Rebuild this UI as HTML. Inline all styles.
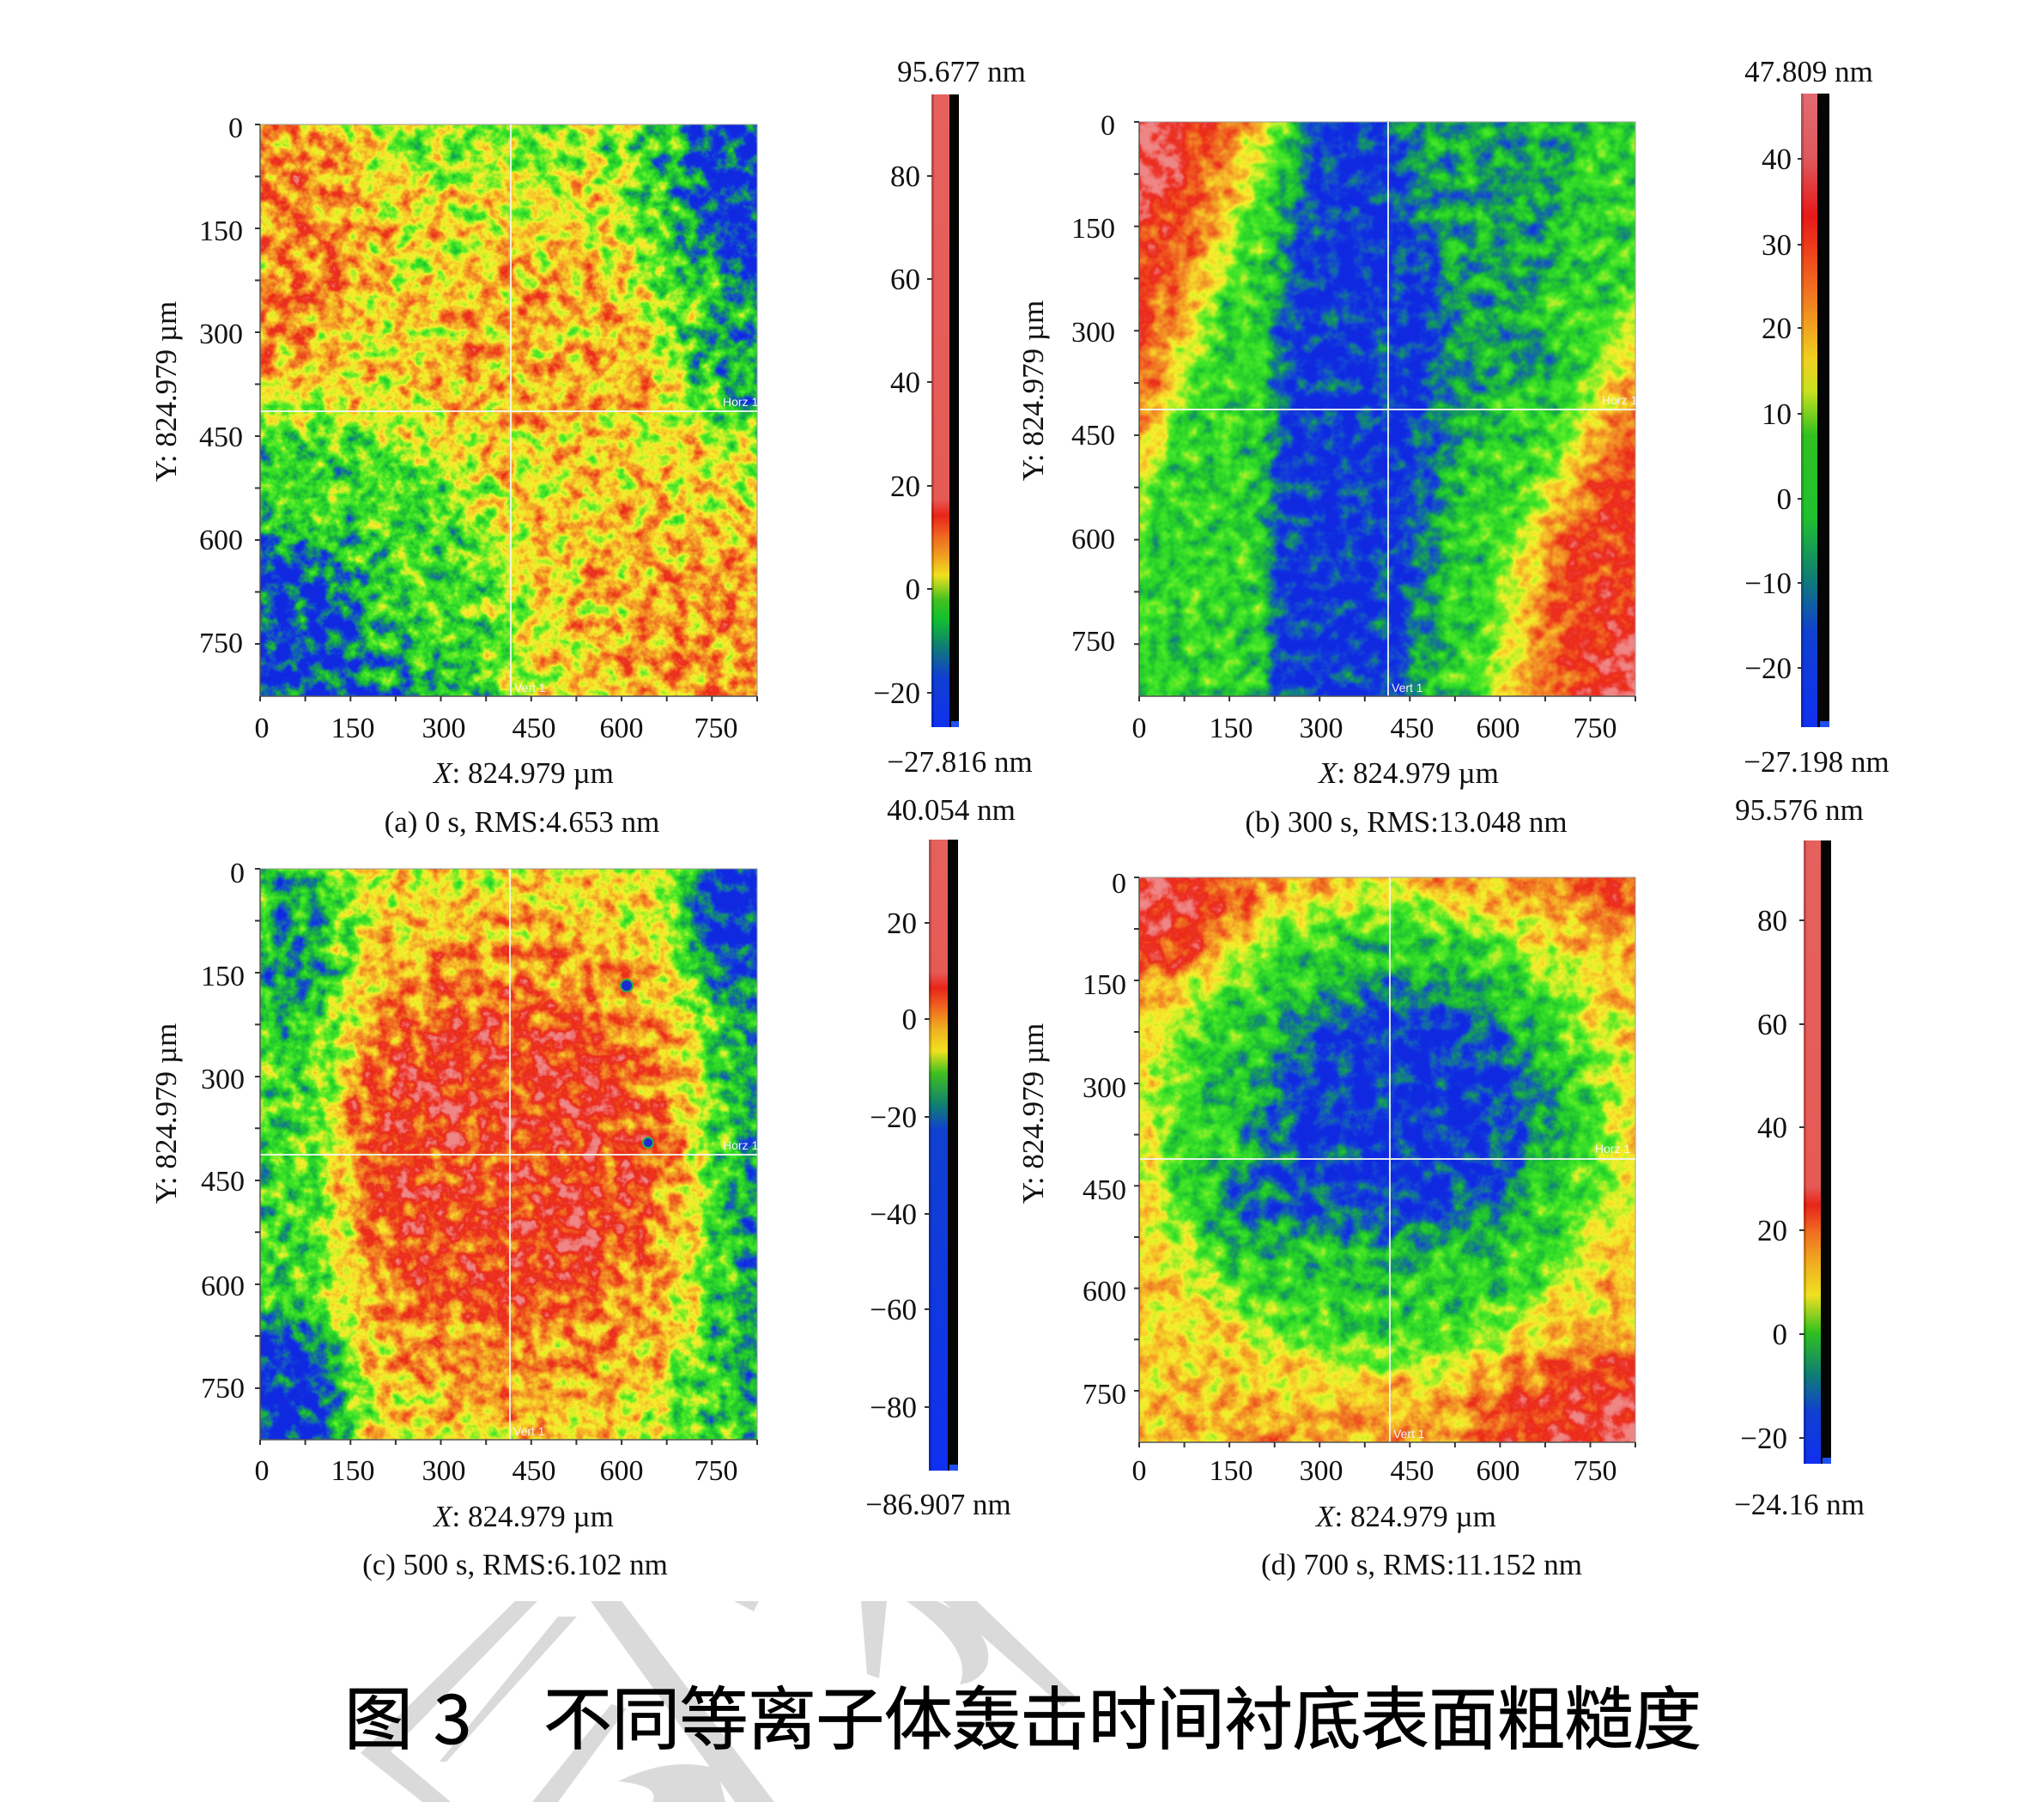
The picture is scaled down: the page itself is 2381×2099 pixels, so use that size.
<!DOCTYPE html>
<html><head><meta charset="utf-8"><style>html,body{margin:0;padding:0;background:#fff}svg{display:block}</style></head><body>
<svg xmlns="http://www.w3.org/2000/svg" width="2381" height="2099" viewBox="0 0 2381 2099">
<defs>
<filter id="fa" filterUnits="userSpaceOnUse" x="303" y="145" width="579" height="666" color-interpolation-filters="sRGB">
<feGaussianBlur in="SourceGraphic" stdDeviation="24" result="b"/>
<feComponentTransfer in="b" result="bo"><feFuncA type="linear" slope="0" intercept="1"/></feComponentTransfer>
<feTurbulence type="fractalNoise" baseFrequency="0.05" numOctaves="4" seed="7" result="t"/>
<feColorMatrix in="t" type="matrix" values="1 0 0 0 0 1 0 0 0 0 1 0 0 0 0 0 0 0 0 1" result="g"/>
<feComposite in="bo" in2="g" operator="arithmetic" k1="0" k2="1" k3="0.75" k4="-0.375" result="h"/>
<feComponentTransfer in="h">
<feFuncR type="table" tableValues="0.059 0.059 0.078 0.078 0.078 0.098 0.137 0.196 0.294 0.529 0.784 0.961 0.965 0.961 0.949 0.941 0.933 0.925 0.925 0.933 0.941"/>
<feFuncG type="table" tableValues="0.157 0.176 0.255 0.392 0.529 0.667 0.784 0.863 0.910 0.925 0.941 0.941 0.831 0.698 0.557 0.424 0.282 0.165 0.216 0.412 0.529"/>
<feFuncB type="table" tableValues="0.882 0.882 0.843 0.686 0.471 0.294 0.176 0.157 0.157 0.157 0.157 0.176 0.165 0.157 0.149 0.133 0.118 0.098 0.176 0.392 0.529"/>
<feFuncA type="linear" slope="0" intercept="1"/>
</feComponentTransfer>
</filter>
<filter id="fb" filterUnits="userSpaceOnUse" x="1327" y="142" width="578" height="669" color-interpolation-filters="sRGB">
<feGaussianBlur in="SourceGraphic" stdDeviation="14" result="b"/>
<feComponentTransfer in="b" result="bo"><feFuncA type="linear" slope="0" intercept="1"/></feComponentTransfer>
<feTurbulence type="fractalNoise" baseFrequency="0.05" numOctaves="3" seed="11" result="t"/>
<feColorMatrix in="t" type="matrix" values="1 0 0 0 0 1 0 0 0 0 1 0 0 0 0 0 0 0 0 1" result="g"/>
<feComposite in="bo" in2="g" operator="arithmetic" k1="0" k2="1" k3="0.45" k4="-0.225" result="h"/>
<feComponentTransfer in="h">
<feFuncR type="table" tableValues="0.059 0.059 0.078 0.078 0.078 0.098 0.137 0.196 0.294 0.529 0.784 0.961 0.965 0.961 0.949 0.941 0.933 0.925 0.925 0.933 0.941"/>
<feFuncG type="table" tableValues="0.157 0.176 0.255 0.392 0.529 0.667 0.784 0.863 0.910 0.925 0.941 0.941 0.831 0.698 0.557 0.424 0.282 0.165 0.216 0.412 0.529"/>
<feFuncB type="table" tableValues="0.882 0.882 0.843 0.686 0.471 0.294 0.176 0.157 0.157 0.157 0.157 0.176 0.165 0.157 0.149 0.133 0.118 0.098 0.176 0.392 0.529"/>
<feFuncA type="linear" slope="0" intercept="1"/>
</feComponentTransfer>
</filter>
<filter id="fc" filterUnits="userSpaceOnUse" x="303" y="1012" width="579" height="665" color-interpolation-filters="sRGB">
<feGaussianBlur in="SourceGraphic" stdDeviation="22" result="b"/>
<feComponentTransfer in="b" result="bo"><feFuncA type="linear" slope="0" intercept="1"/></feComponentTransfer>
<feTurbulence type="fractalNoise" baseFrequency="0.05" numOctaves="4" seed="23" result="t"/>
<feColorMatrix in="t" type="matrix" values="1 0 0 0 0 1 0 0 0 0 1 0 0 0 0 0 0 0 0 1" result="g"/>
<feComposite in="bo" in2="g" operator="arithmetic" k1="0" k2="1" k3="0.65" k4="-0.325" result="h"/>
<feComponentTransfer in="h">
<feFuncR type="table" tableValues="0.059 0.059 0.078 0.078 0.078 0.098 0.137 0.196 0.294 0.529 0.784 0.961 0.965 0.961 0.949 0.941 0.933 0.925 0.925 0.933 0.941"/>
<feFuncG type="table" tableValues="0.157 0.176 0.255 0.392 0.529 0.667 0.784 0.863 0.910 0.925 0.941 0.941 0.831 0.698 0.557 0.424 0.282 0.165 0.216 0.412 0.529"/>
<feFuncB type="table" tableValues="0.882 0.882 0.843 0.686 0.471 0.294 0.176 0.157 0.157 0.157 0.157 0.176 0.165 0.157 0.149 0.133 0.118 0.098 0.176 0.392 0.529"/>
<feFuncA type="linear" slope="0" intercept="1"/>
</feComponentTransfer>
</filter>
<filter id="fd" filterUnits="userSpaceOnUse" x="1327" y="1022" width="578" height="658" color-interpolation-filters="sRGB">
<feGaussianBlur in="SourceGraphic" stdDeviation="26" result="b"/>
<feComponentTransfer in="b" result="bo"><feFuncA type="linear" slope="0" intercept="1"/></feComponentTransfer>
<feTurbulence type="fractalNoise" baseFrequency="0.045" numOctaves="4" seed="5" result="t"/>
<feColorMatrix in="t" type="matrix" values="1 0 0 0 0 1 0 0 0 0 1 0 0 0 0 0 0 0 0 1" result="g"/>
<feComposite in="bo" in2="g" operator="arithmetic" k1="0" k2="1" k3="0.5" k4="-0.25" result="h"/>
<feComponentTransfer in="h">
<feFuncR type="table" tableValues="0.059 0.059 0.078 0.078 0.078 0.098 0.137 0.196 0.294 0.529 0.784 0.961 0.965 0.961 0.949 0.941 0.933 0.925 0.925 0.933 0.941"/>
<feFuncG type="table" tableValues="0.157 0.176 0.255 0.392 0.529 0.667 0.784 0.863 0.910 0.925 0.941 0.941 0.831 0.698 0.557 0.424 0.282 0.165 0.216 0.412 0.529"/>
<feFuncB type="table" tableValues="0.882 0.882 0.843 0.686 0.471 0.294 0.176 0.157 0.157 0.157 0.157 0.176 0.165 0.157 0.149 0.133 0.118 0.098 0.176 0.392 0.529"/>
<feFuncA type="linear" slope="0" intercept="1"/>
</feComponentTransfer>
</filter>
<linearGradient id="ca" x1="0" y1="0" x2="0" y2="1">
<stop offset="0" stop-color="#e5615e"/><stop offset="0.64" stop-color="#e65a55"/><stop offset="0.665" stop-color="#e8241a"/><stop offset="0.70" stop-color="#f06a20"/><stop offset="0.73" stop-color="#f0a020"/><stop offset="0.76" stop-color="#f0e020"/><stop offset="0.80" stop-color="#40c020"/><stop offset="0.83" stop-color="#10c030"/><stop offset="0.87" stop-color="#108070"/><stop offset="0.92" stop-color="#1040d0"/><stop offset="1" stop-color="#1030f0"/>
</linearGradient>
<linearGradient id="cb" x1="0" y1="0" x2="0" y2="1">
<stop offset="0" stop-color="#e26a70"/><stop offset="0.1" stop-color="#dd5a5e"/><stop offset="0.194" stop-color="#e81818"/><stop offset="0.31" stop-color="#f07020"/><stop offset="0.42" stop-color="#f0d020"/><stop offset="0.47" stop-color="#c8e020"/><stop offset="0.54" stop-color="#30c020"/><stop offset="0.67" stop-color="#20c030"/><stop offset="0.76" stop-color="#108070"/><stop offset="0.85" stop-color="#1040d0"/><stop offset="1" stop-color="#1030f0"/>
</linearGradient>
<linearGradient id="cc" x1="0" y1="0" x2="0" y2="1">
<stop offset="0" stop-color="#e5615e"/><stop offset="0.21" stop-color="#e65a55"/><stop offset="0.235" stop-color="#e8241a"/><stop offset="0.27" stop-color="#f07020"/><stop offset="0.30" stop-color="#f0b020"/><stop offset="0.335" stop-color="#f0e020"/><stop offset="0.37" stop-color="#40c020"/><stop offset="0.42" stop-color="#108070"/><stop offset="0.46" stop-color="#1040d0"/><stop offset="1" stop-color="#1030f0"/>
</linearGradient>
<linearGradient id="cd" x1="0" y1="0" x2="0" y2="1">
<stop offset="0" stop-color="#e5615e"/><stop offset="0.555" stop-color="#e65a55"/><stop offset="0.585" stop-color="#e8241a"/><stop offset="0.63" stop-color="#f07020"/><stop offset="0.68" stop-color="#f0b020"/><stop offset="0.73" stop-color="#f0e020"/><stop offset="0.79" stop-color="#30c020"/><stop offset="0.855" stop-color="#108070"/><stop offset="0.915" stop-color="#1040d0"/><stop offset="1" stop-color="#1030f0"/>
</linearGradient>
</defs>

<rect x="0" y="0" width="2381" height="2099" fill="#ffffff"/>

<!-- watermark -->
<g fill="#dadada">
<polygon points="600,1865 626,1865 455,2040 525,2099 492,2099 420,2042"/>
<polygon points="688,1865 724,1865 902,2099 856,2099"/>
<polygon points="650,1883 672,1883 520,2052 512,2052"/>
<polygon points="712,1985 730,1990 650,2099 620,2099"/>
<path d="M720 2075 Q780 2045 835 2060 L845 2099 L760 2099 Q770 2080 720 2075 Z"/>
<polygon points="855,1865 884,1865 878,1877"/>
<polygon points="1003,1865 1033,1865 1024,1955 1010,1950"/>
<path d="M1056 1865 L1092 1865 Q1160 1900 1150 1940 Q1140 1960 1118 1962 Q1135 1920 1056 1865 Z"/>
<polygon points="1098,1865 1138,1865 1252,1975 1238,1988"/>
</g>

<!-- ===== Panel (a) ===== -->
<g filter="url(#fa)">
<g transform="translate(303,145)">
<rect x="-80" y="-80" width="740" height="830" fill="#8f8f8f"/>
<ellipse cx="330" cy="260" rx="150" ry="110" fill="#a3a3a3"/>
<ellipse cx="420" cy="500" rx="100" ry="90" fill="#9e9e9e"/>
<ellipse cx="20" cy="130" rx="110" ry="170" fill="#b3b3b3"/>
<ellipse cx="260" cy="15" rx="140" ry="50" fill="#707070"/>
<polygon points="400,-80 660,-80 660,390 560,380 490,300 440,160" fill="#5c5c5c"/>
<ellipse cx="600" cy="40" rx="110" ry="170" fill="#141414"/>
<ellipse cx="560" cy="275" rx="70" ry="50" fill="#383838"/>
<polygon points="-80,330 60,330 180,380 260,460 290,560 300,750 -80,750" fill="#5c5c5c"/>
<ellipse cx="20" cy="600" rx="110" ry="120" fill="#1a1a1a"/>
<ellipse cx="120" cy="690" rx="130" ry="55" fill="#242424"/>
<ellipse cx="570" cy="630" rx="170" ry="160" fill="#adadad"/>
</g>
</g>
<rect x="303" y="145" width="579" height="666" fill="none" stroke="#9a9a9a" stroke-width="1"/>
<line x1="595" y1="145" x2="595" y2="811" stroke="#f2f8f2" stroke-width="2" opacity="0.9"/>
<line x1="303" y1="479" x2="882" y2="479" stroke="#f2f8f2" stroke-width="2" opacity="0.9"/>
<text x="842" y="473" font-family="Liberation Sans, sans-serif" font-size="14" fill="#f4f4f4">Horz 1</text>
<text x="599" y="806" font-family="Liberation Sans, sans-serif" font-size="14" fill="#f4f4f4">Vert 1</text>
<path d="M303 145V811H882" fill="none" stroke="#555" stroke-width="1.5"/>
<path d="M297 145.0H303M297 205.5H303M297 266H303M297 326.5H303M297 387H303M297 447.5H303M297 508H303M297 568.5H303M297 629H303M297 689.5H303M297 750H303M303 811V817M355.6 811V817M408.3 811V817M460.9 811V817M513.5 811V817M566.2 811V817M618.8 811V817M671.4 811V817M724.1 811V817M776.7 811V817M829.3 811V817M882 811V817" stroke="#333" stroke-width="2"/>
<g font-family="Liberation Serif, serif" font-size="34" fill="#111">
<g text-anchor="end">
<text x="283" y="160">0</text><text x="283" y="280">150</text><text x="283" y="400">300</text><text x="283" y="520">450</text><text x="283" y="640">600</text><text x="283" y="760">750</text>
</g>
<g text-anchor="middle">
<text x="305" y="859">0</text><text x="411" y="859">150</text><text x="517" y="859">300</text><text x="622" y="859">450</text><text x="724" y="859">600</text><text x="834" y="859">750</text>
</g>
</g>
<g font-family="Liberation Serif, serif" font-size="35" fill="#111" text-anchor="middle">
<text transform="translate(205,456) rotate(-90)">Y: 824.979 µm</text>
<text x="610" y="912"><tspan font-style="italic">X</tspan>: 824.979 µm</text>
<text x="608" y="969">(a) 0 s, RMS:4.653 nm</text>
</g>
<!-- colorbar a -->
<rect x="1085" y="110" width="21" height="737" fill="url(#ca)"/>
<rect x="1085" y="110" width="3" height="737" fill="#000" opacity="0.2"/>
<rect x="1106" y="110" width="11" height="737" fill="#050505"/>
<rect x="1108" y="840" width="9" height="7" fill="#2050f0"/>
<path d="M1080 205H1086M1080 325H1086M1080 445H1086M1080 566H1086M1080 686H1086M1080 807H1086" stroke="#333" stroke-width="2"/>
<g font-family="Liberation Serif, serif" font-size="35" fill="#111">
<g text-anchor="end">
<text x="1072" y="217">80</text><text x="1072" y="337">60</text><text x="1072" y="457">40</text><text x="1072" y="578">20</text><text x="1072" y="698">0</text><text x="1072" y="819">−20</text>
</g>
<g text-anchor="middle">
<text x="1120" y="95">95.677 nm</text>
<text x="1118" y="899">−27.816 nm</text>
<text x="1108" y="955">40.054 nm</text>
</g>
</g>

<!-- ===== Panel (b) ===== -->
<g filter="url(#fb)">
<g transform="translate(1327,142)">
<rect x="-80" y="-80" width="740" height="830" fill="#575757"/>
<polygon points="300,-80 515,-80 500,120 445,260 370,420 335,750 300,750" fill="#3d3d3d"/>
<polygon points="195,-80 300,-80 300,0 357,241 325,496 300,750 150,750 153,496 160,241 195,0" fill="#141414"/>
<ellipse cx="463" cy="282" rx="22" ry="20" fill="#141414"/>
<polygon points="-80,-80 185,-80 163,0 0,460 -80,500" fill="#919191"/>
<polygon points="-80,-80 145,-80 128,0 0,385 -80,410" fill="#b8b8b8"/>
<polygon points="-80,-80 105,-80 88,0 0,300 -80,320" fill="#d4d4d4"/>
<ellipse cx="5" cy="30" rx="38" ry="75" fill="#f5f5f5"/>
<polygon points="578,200 660,200 660,750 395,750 404,669 435,496" fill="#919191"/>
<polygon points="578,290 660,290 660,750 440,750 465,496" fill="#b8b8b8"/>
<polygon points="578,360 660,360 660,750 478,750 498,496" fill="#d4d4d4"/>
<ellipse cx="580" cy="665" rx="40" ry="90" fill="#f5f5f5"/>
</g>
</g>
<rect x="1327" y="142" width="578" height="669" fill="none" stroke="#9a9a9a" stroke-width="1"/>
<line x1="1617" y1="142" x2="1617" y2="811" stroke="#f2f8f2" stroke-width="2" opacity="0.9"/>
<line x1="1327" y1="477" x2="1905" y2="477" stroke="#f2f8f2" stroke-width="2" opacity="0.9"/>
<text x="1866" y="471" font-family="Liberation Sans, sans-serif" font-size="14" fill="#f4f4f4">Horz 1</text>
<text x="1621" y="806" font-family="Liberation Sans, sans-serif" font-size="14" fill="#f4f4f4">Vert 1</text>
<path d="M1327 142V811H1905" fill="none" stroke="#555" stroke-width="1.5"/>
<path d="M1321 142H1327M1321 202.8H1327M1321 263.6H1327M1321 324.4H1327M1321 385.3H1327M1321 446.1H1327M1321 506.9H1327M1321 567.7H1327M1321 628.6H1327M1321 689.4H1327M1321 750.2H1327M1327 811V817M1379.6 811V817M1432.1 811V817M1484.7 811V817M1537.2 811V817M1589.8 811V817M1642.3 811V817M1694.9 811V817M1747.4 811V817M1800 811V817M1852.5 811V817M1905 811V817" stroke="#333" stroke-width="2"/>
<g font-family="Liberation Serif, serif" font-size="34" fill="#111">
<g text-anchor="end">
<text x="1299" y="157">0</text><text x="1299" y="277">150</text><text x="1299" y="398">300</text><text x="1299" y="518">450</text><text x="1299" y="639">600</text><text x="1299" y="758">750</text>
</g>
<g text-anchor="middle">
<text x="1327" y="859">0</text><text x="1434" y="859">150</text><text x="1539" y="859">300</text><text x="1645" y="859">450</text><text x="1745" y="859">600</text><text x="1858" y="859">750</text>
</g>
</g>
<g font-family="Liberation Serif, serif" font-size="35" fill="#111" text-anchor="middle">
<text transform="translate(1215,455) rotate(-90)">Y: 824.979 µm</text>
<text x="1641" y="912"><tspan font-style="italic">X</tspan>: 824.979 µm</text>
<text x="1638" y="969">(b) 300 s, RMS:13.048 nm</text>
</g>
<!-- colorbar b -->
<rect x="2098" y="109" width="19" height="738" fill="url(#cb)"/>
<rect x="2098" y="109" width="3" height="738" fill="#000" opacity="0.2"/>
<rect x="2117" y="109" width="14" height="738" fill="#050505"/>
<rect x="2120" y="840" width="11" height="7" fill="#2050f0"/>
<path d="M2094 185H2099M2094 285H2099M2094 382H2099M2094 482H2099M2094 581H2099M2094 679H2099M2094 778H2099" stroke="#333" stroke-width="2"/>
<g font-family="Liberation Serif, serif" font-size="35" fill="#111">
<g text-anchor="end">
<text x="2087" y="197">40</text><text x="2087" y="297">30</text><text x="2087" y="394">20</text><text x="2087" y="494">10</text><text x="2087" y="593">0</text><text x="2087" y="691">−10</text><text x="2087" y="790">−20</text>
</g>
<g text-anchor="middle">
<text x="2107" y="95">47.809 nm</text>
<text x="2116" y="899">−27.198 nm</text>
<text x="2096" y="955">95.576 nm</text>
</g>
</g>

<!-- ===== Panel (c) ===== -->
<g filter="url(#fc)">
<g transform="translate(303,1012)">
<rect x="-80" y="-80" width="740" height="830" fill="#8f8f8f"/>
<ellipse cx="295" cy="345" rx="250" ry="300" fill="#adadad"/>
<ellipse cx="285" cy="335" rx="180" ry="195" fill="#d1d1d1"/>
<ellipse cx="200" cy="265" rx="28" ry="40" fill="#f0f0f0"/>
<ellipse cx="375" cy="262" rx="40" ry="22" fill="#f0f0f0"/>
<ellipse cx="365" cy="420" rx="30" ry="35" fill="#f0f0f0"/>
<polygon points="-80,-80 90,-80 100,100 85,300 95,500 110,750 -80,750" fill="#5c5c5c"/>
<ellipse cx="30" cy="90" rx="60" ry="80" fill="#383838"/>
<ellipse cx="20" cy="615" rx="80" ry="90" fill="#0f0f0f"/>
<polygon points="485,-80 660,-80 660,750 455,750 495,560 515,300 500,150" fill="#595959"/>
<ellipse cx="590" cy="40" rx="95" ry="125" fill="#0f0f0f"/>
<polygon points="550,120 660,120 660,620 555,620" fill="#383838"/>
</g>
</g>
<circle cx="730" cy="1148" r="7" fill="#1a2ad0" stroke="#30b040" stroke-width="2"/>
<circle cx="755" cy="1331" r="6" fill="#1a2ad0" stroke="#30b040" stroke-width="2"/>
<rect x="303" y="1012" width="579" height="665" fill="none" stroke="#9a9a9a" stroke-width="1"/>
<line x1="594" y1="1012" x2="594" y2="1677" stroke="#f2f8f2" stroke-width="2" opacity="0.9"/>
<line x1="303" y1="1345" x2="882" y2="1345" stroke="#f2f8f2" stroke-width="2" opacity="0.9"/>
<text x="842" y="1339" font-family="Liberation Sans, sans-serif" font-size="14" fill="#f4f4f4">Horz 1</text>
<text x="598" y="1672" font-family="Liberation Sans, sans-serif" font-size="14" fill="#f4f4f4">Vert 1</text>
<path d="M303 1012V1677H882" fill="none" stroke="#555" stroke-width="1.5"/>
<path d="M297 1012H303M297 1072.5H303M297 1133H303M297 1193.4H303M297 1254H303M297 1314.3H303M297 1375H303M297 1435.2H303M297 1496H303M297 1556.1H303M297 1617H303M303 1677V1683M355.6 1677V1683M408.3 1677V1683M460.9 1677V1683M513.5 1677V1683M566.2 1677V1683M618.8 1677V1683M671.4 1677V1683M724.1 1677V1683M776.7 1677V1683M829.3 1677V1683M882 1677V1683" stroke="#333" stroke-width="2"/>
<g font-family="Liberation Serif, serif" font-size="34" fill="#111">
<g text-anchor="end">
<text x="285" y="1028">0</text><text x="285" y="1148">150</text><text x="285" y="1268">300</text><text x="285" y="1387">450</text><text x="285" y="1509">600</text><text x="285" y="1628">750</text>
</g>
<g text-anchor="middle">
<text x="305" y="1724">0</text><text x="411" y="1724">150</text><text x="517" y="1724">300</text><text x="622" y="1724">450</text><text x="724" y="1724">600</text><text x="834" y="1724">750</text>
</g>
</g>
<g font-family="Liberation Serif, serif" font-size="35" fill="#111" text-anchor="middle">
<text transform="translate(205,1297) rotate(-90)">Y: 824.979 µm</text>
<text x="610" y="1778"><tspan font-style="italic">X</tspan>: 824.979 µm</text>
<text x="600" y="1834">(c) 500 s, RMS:6.102 nm</text>
</g>
<!-- colorbar c -->
<rect x="1082" y="978" width="22" height="735" fill="url(#cc)"/>
<rect x="1082" y="978" width="3" height="735" fill="#000" opacity="0.2"/>
<rect x="1104" y="978" width="12" height="735" fill="#050505"/>
<rect x="1106" y="1706" width="10" height="7" fill="#2050f0"/>
<path d="M1077 1075H1083M1077 1187H1083M1077 1301H1083M1077 1414H1083M1077 1525H1083M1077 1639H1083" stroke="#333" stroke-width="2"/>
<g font-family="Liberation Serif, serif" font-size="35" fill="#111">
<g text-anchor="end">
<text x="1068" y="1087">20</text><text x="1068" y="1199">0</text><text x="1068" y="1313">−20</text><text x="1068" y="1426">−40</text><text x="1068" y="1537">−60</text><text x="1068" y="1651">−80</text>
</g>
<text x="1093" y="1764" text-anchor="middle">−86.907 nm</text>
</g>

<!-- ===== Panel (d) ===== -->
<g filter="url(#fd)">
<g transform="translate(1327,1022)">
<rect x="-80" y="-80" width="740" height="830" fill="#999999"/>
<ellipse cx="300" cy="-20" rx="330" ry="75" fill="#adadad"/>
<ellipse cx="300" cy="680" rx="330" ry="70" fill="#adadad"/>
<ellipse cx="285" cy="295" rx="265" ry="270" fill="#545454"/>
<ellipse cx="305" cy="275" rx="160" ry="150" fill="#141414"/>
<ellipse cx="170" cy="370" rx="80" ry="45" fill="#1f1f1f"/>
<ellipse cx="10" cy="10" rx="115" ry="110" fill="#d9d9d9"/>
<ellipse cx="0" cy="0" rx="50" ry="60" fill="#f5f5f5"/>
<ellipse cx="578" cy="0" rx="75" ry="60" fill="#d1d1d1"/>
<ellipse cx="560" cy="658" rx="170" ry="110" fill="#d9d9d9"/>
<ellipse cx="578" cy="658" rx="50" ry="60" fill="#f5f5f5"/>
</g>
</g>
<rect x="1327" y="1022" width="578" height="658" fill="none" stroke="#9a9a9a" stroke-width="1"/>
<line x1="1619" y1="1022" x2="1619" y2="1680" stroke="#f2f8f2" stroke-width="2" opacity="0.9"/>
<line x1="1327" y1="1350" x2="1905" y2="1350" stroke="#f2f8f2" stroke-width="2" opacity="0.9"/>
<text x="1858" y="1343" font-family="Liberation Sans, sans-serif" font-size="14" fill="#f4f4f4">Horz 1</text>
<text x="1623" y="1675" font-family="Liberation Sans, sans-serif" font-size="14" fill="#f4f4f4">Vert 1</text>
<path d="M1327 1022V1680H1905" fill="none" stroke="#555" stroke-width="1.5"/>
<path d="M1321 1022H1327M1321 1082H1327M1321 1142H1327M1321 1202H1327M1321 1262H1327M1321 1321.6H1327M1321 1381.3H1327M1321 1441H1327M1321 1500.6H1327M1321 1560.3H1327M1321 1620H1327M1327 1680V1686M1379.6 1680V1686M1432.1 1680V1686M1484.7 1680V1686M1537.2 1680V1686M1589.8 1680V1686M1642.3 1680V1686M1694.9 1680V1686M1747.4 1680V1686M1800 1680V1686M1852.5 1680V1686M1905 1680V1686" stroke="#333" stroke-width="2"/>
<g font-family="Liberation Serif, serif" font-size="34" fill="#111">
<g text-anchor="end">
<text x="1312" y="1040">0</text><text x="1312" y="1158">150</text><text x="1312" y="1278">300</text><text x="1312" y="1397">450</text><text x="1312" y="1515">600</text><text x="1312" y="1635">750</text>
</g>
<g text-anchor="middle">
<text x="1327" y="1724">0</text><text x="1434" y="1724">150</text><text x="1539" y="1724">300</text><text x="1645" y="1724">450</text><text x="1745" y="1724">600</text><text x="1858" y="1724">750</text>
</g>
</g>
<g font-family="Liberation Serif, serif" font-size="35" fill="#111" text-anchor="middle">
<text transform="translate(1215,1297) rotate(-90)">Y: 824.979 µm</text>
<text x="1638" y="1778"><tspan font-style="italic">X</tspan>: 824.979 µm</text>
<text x="1656" y="1834">(d) 700 s, RMS:11.152 nm</text>
</g>
<!-- colorbar d -->
<rect x="2101" y="979" width="20" height="726" fill="url(#cd)"/>
<rect x="2101" y="979" width="3" height="726" fill="#000" opacity="0.2"/>
<rect x="2121" y="979" width="12" height="726" fill="#050505"/>
<rect x="2123" y="1698" width="10" height="7" fill="#2050f0"/>
<path d="M2096 1072H2102M2096 1193H2102M2096 1313H2102M2096 1433H2102M2096 1554H2102M2096 1675H2102" stroke="#333" stroke-width="2"/>
<g font-family="Liberation Serif, serif" font-size="35" fill="#111">
<g text-anchor="end">
<text x="2082" y="1084">80</text><text x="2082" y="1205">60</text><text x="2082" y="1325">40</text><text x="2082" y="1445">20</text><text x="2082" y="1566">0</text><text x="2082" y="1687">−20</text>
</g>
<text x="2096" y="1764" text-anchor="middle">−24.16 nm</text>
</g>

<!-- title -->
<g fill="#000" stroke="#000" stroke-width="0.8" font-family="'Noto Sans CJK SC', sans-serif" font-weight="400">
<text x="401" y="2031" font-size="80">图</text>
<text x="505" y="2031" font-size="80">3</text>
<text x="633" y="2031" font-size="80" textLength="1349" lengthAdjust="spacing">不同等离子体轰击时间衬底表面粗糙度</text>
</g>
</svg>
</body></html>
